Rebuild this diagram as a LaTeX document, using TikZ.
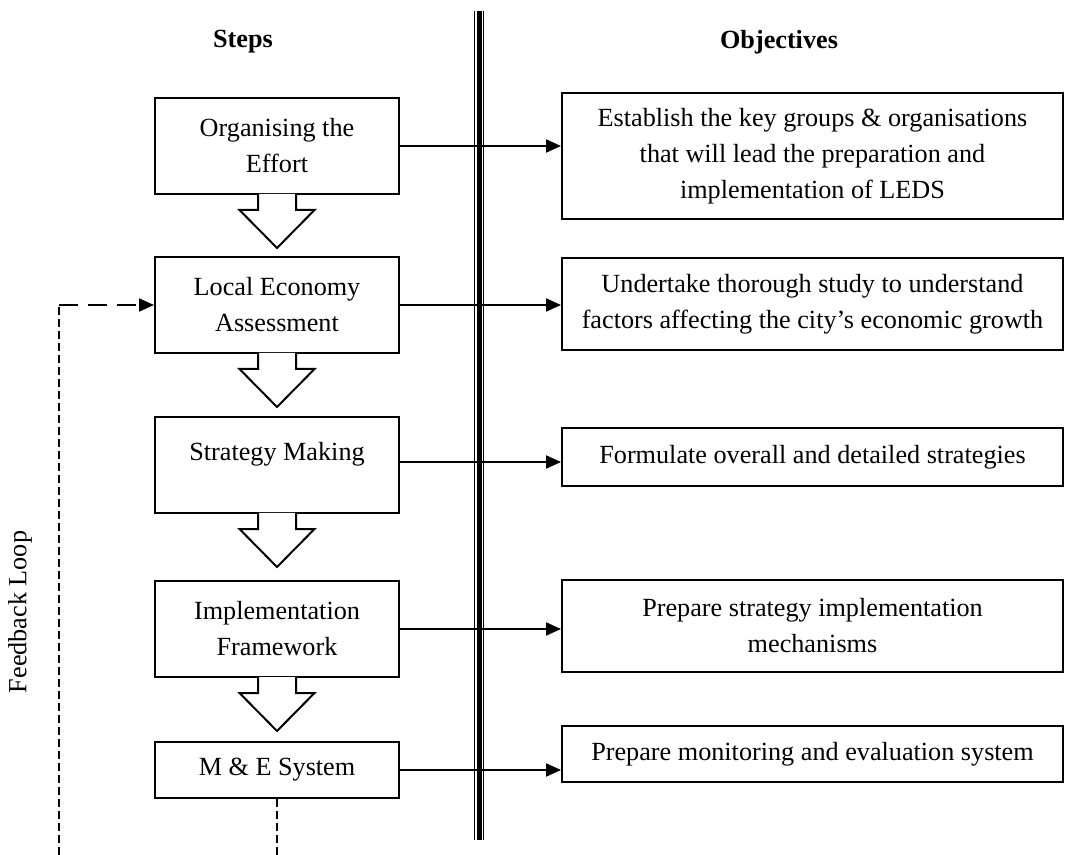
\documentclass[tikz,border=0pt]{standalone}
\usepackage{fontspec}
\setmainfont{Liberation Serif}
\usetikzlibrary{arrows.meta}

\begin{document}
\begin{tikzpicture}[x=0.5pt, y=-0.5pt,
  font=\fontsize{13.1pt}{18pt}\selectfont,
  line width=1pt,
  stepbox/.style={draw, rectangle, align=center, minimum width=122pt, minimum height=48pt, inner sep=2pt},
  objbox/.style={draw, rectangle, align=center, minimum width=250.5pt, inner sep=2pt},
  headtext/.style={font=\fontsize{13.1pt}{18pt}\selectfont\bfseries},
  link/.style={-{Triangle[length=7.5pt, width=6.5pt]}},
  fbline/.style={dash pattern=on 4pt off 2pt},
  fblong/.style={dash pattern=on 9.5pt off 5pt},
  divider/.style={double, double distance=3.9pt, line width=0.65pt},
  flowdown/.pic={
    \filldraw[fill=white] (-19,-1) -- (-19,15) -- (-37.5,15) -- (0,53) -- (37.5,15) -- (19,15) -- (19,-1);
  }]
\useasboundingbox (0,0) rectangle (1071,855);

% headings
\node[headtext] (hdsteps) at (243,42) {Steps};
\node[headtext] (hdobj) at (779,42) {Objectives};

% divider between the two columns
\coordinate (dtop) at (479,11);
\coordinate (dbot) at (479,840);
\draw[divider] (dtop) -- (dbot);
\draw[line width=2.5pt] (dtop) -- (dbot);

% steps
\node[stepbox] (s1) at (277,146) {Organising the\\Effort};
\node[stepbox] (s2) at (277,305) {Local Economy\\Assessment};
\node[stepbox, text height=9pt, text depth=14pt] (s3) at (277,465) {Strategy Making};
\node[stepbox] (s4) at (277,629) {Implementation\\Framework};
\node[stepbox, minimum height=28pt] (s5) at (277,770) {M \& E System};

\pic at (s1.south) {flowdown};
\pic at (s2.south) {flowdown};
\pic at (s3.south) {flowdown};
\pic at (s4.south) {flowdown};

% objectives
\node[objbox, minimum height=63pt] (o1) at (812.5,156) {Establish the key groups \& organisations\\that will lead the preparation and\\implementation of LEDS};
\node[objbox, minimum height=46pt] (o2) at (812.5,304) {Undertake thorough study to understand\\factors affecting the city's economic growth};
\node[objbox, minimum height=29pt] (o3) at (812.5,457) {Formulate overall and detailed strategies};
\node[objbox, minimum height=46pt] (o4) at (812.5,626) {Prepare strategy implementation\\mechanisms};
\node[objbox, minimum height=28pt] (o5) at (812.5,754) {Prepare monitoring and evaluation system};

\draw[link] (s1.east) -- (s1.east -| o1.west);
\draw[link] (s2.east) -- (s2.east -| o2.west);
\draw[link] ([yshift=1.5pt]s3.east) -- ([yshift=1.5pt]s3.east -| o3.west);
\draw[link] (s4.east) -- (s4.east -| o4.west);
\draw[link] (s5.east) -- (s5.east -| o5.west);

% feedback loop
\coordinate (fbL) at (59,855);
\coordinate (fbR) at (277,855);
\coordinate (fbC) at (fbL |- s2.west);
\draw[fbline] (s5.south) -- (fbR);
\draw[fbline] (fbL) -- (fbC);
\draw[fblong, link] (fbC) -- (s2.west);
\node[rotate=90] (fbtext) at (20,612) {Feedback Loop};
\end{tikzpicture}
\end{document}
